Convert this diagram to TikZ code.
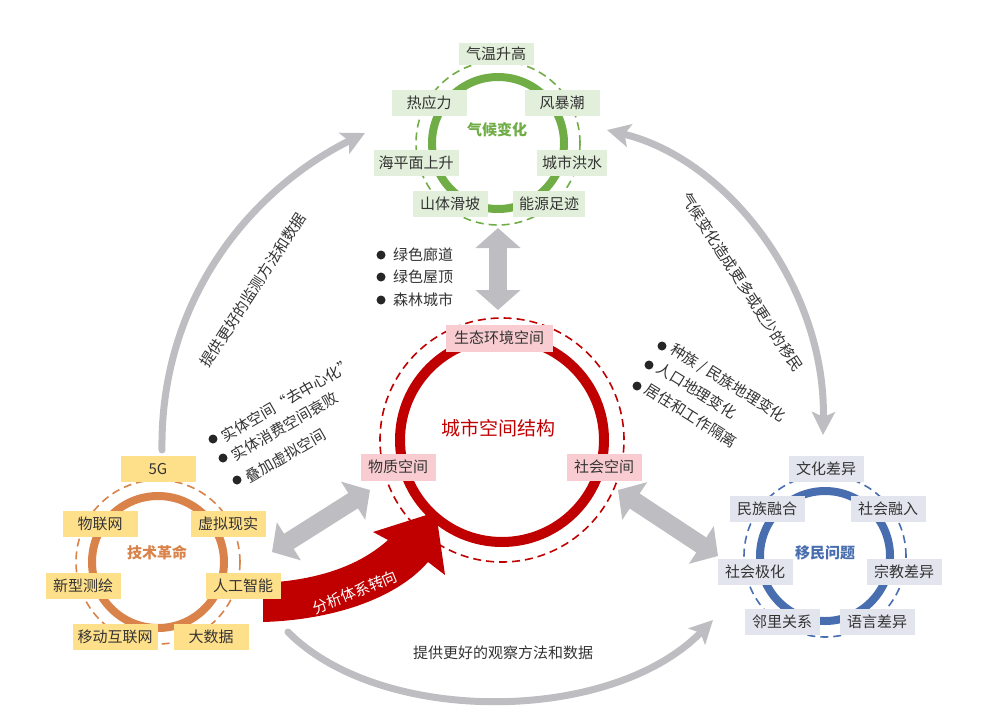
\documentclass[tikz,border=0pt]{standalone}
\usepackage{fontspec}
\setmainfont{Noto Sans CJK SC}
\usetikzlibrary{arrows.meta}

\definecolor{climgreen}{RGB}{112,173,71}
\definecolor{climfill}{RGB}{226,239,218}
\definecolor{urbred}{RGB}{192,0,0}
\definecolor{urbfill}{RGB}{248,204,209}
\definecolor{techorange}{RGB}{217,131,74}
\definecolor{techfill}{RGB}{255,224,138}
\definecolor{migblue}{RGB}{72,110,176}
\definecolor{migfill}{RGB}{226,229,238}
\definecolor{arrowgray}{RGB}{190,190,194}
\definecolor{txtgray}{RGB}{51,51,51}

\begin{document}
\begin{tikzpicture}[x=1pt,y=-1pt,
  font=\fontsize{15}{17}\selectfont, text=txtgray,
  box/.style={inner sep=0pt, minimum width=75pt, minimum height=26pt},
  gbox/.style={box, fill=climfill},
  rbox/.style={box, fill=urbfill, minimum height=27pt},
  obox/.style={box, fill=techfill},
  bbox/.style={box, fill=migfill},
  ring/.style={line width=8pt},
  dring/.style={line width=1.6pt, dash pattern=on 8pt off 5pt},
  fatarrow/.style={arrowgray, line width=18pt,
    {Triangle[width=44pt,length=20pt]}-{Triangle[width=44pt,length=20pt]}},
  thinarrow/.style={arrowgray, line width=7pt, line cap=round},
  grayhead/.tip={Stealth[length=23pt,width=23pt,inset=5pt]},
  bul/.style={circle, fill=black!85, inner sep=0pt, minimum size=9pt},
  title/.style={font=\fontsize{15}{17}\selectfont\bfseries},
]
  \useasboundingbox (0,0) rectangle (982,710);

  % centres of the four rings
  \coordinate (clim) at (498,143);
  \coordinate (urb) at (502,440);
  \coordinate (tech) at (158,562);
  \coordinate (mig) at (825,556);

  % ends of the grey arrows
  \coordinate (techtop) at (162,450);
  \coordinate (climleft) at (365,133);
  \coordinate (climright) at (607,130);
  \coordinate (migtop) at (823,435);
  \coordinate (techbot) at (288,632);
  \coordinate (migleft) at (713,620);
  \coordinate (climbot) at (498,228);
  \coordinate (urbtop) at (498,310);
  \coordinate (techright) at (272,552);
  \coordinate (urbleft) at (370,490);
  \coordinate (urbright) at (618,490);
  \coordinate (migleftup) at (718,556);

  \draw[thinarrow, -grayhead] (techtop) .. controls (160,300) and (250,190) .. (climleft);
  \draw[thinarrow, grayhead-grayhead] (climright) .. controls (730,160) and (826,290) .. (migtop);
  \draw[thinarrow, -grayhead] (techbot) .. controls (380,725) and (610,725) .. (migleft);
  \draw[fatarrow] (climbot) -- (urbtop);
  \draw[fatarrow] (techright) -- (urbleft);
  \draw[fatarrow] (urbright) -- (migleftup);

  \node[rotate=57] (lmon) at (253,290) {提供更好的监测方法和数据};
  \node[rotate=-57] (lmig) at (742,282) {气候变化造成更多或更少的移民};
  \node (lobs) at (503,653) {提供更好的观察方法和数据};

  % red turn arrow
  \fill[urbred] (263,583) .. controls (320,580) and (360,565) .. (388,540) -- (373,532)
    -- (436,512) -- (445,575) -- (428,562) .. controls (395,600) and (330,620) .. (263,622) -- cycle;
  \node[rotate=22, text=white] (lturn) at (355,592) {分析体系转向};

  % rings
  \draw[climgreen, dring] (clim) circle[radius=82pt];
  \draw[climgreen, ring] (clim) circle[radius=66pt];
  \draw[urbred, dring] (urb) circle[radius=122pt];
  \draw[urbred, line width=10pt] (urb) circle[radius=102pt];
  \draw[techorange, dring] (tech) circle[radius=82pt];
  \draw[techorange, ring] (tech) circle[radius=66pt];
  \draw[migblue, dring] (mig) circle[radius=81pt];
  \draw[migblue, ring] (mig) circle[radius=65pt];

  % climate
  \node[title, text=climgreen] (climt) at (497,130) {气候变化};
  \node[gbox, minimum height=22pt] (c1) at (496,54) {气温升高};
  \node[gbox] (c2) at (429,103) {热应力};
  \node[gbox] (c3) at (562,103) {风暴潮};
  \node[gbox, minimum width=85pt] (c4) at (416,163) {海平面上升};
  \node[gbox, minimum width=70pt] (c5) at (572,163) {城市洪水};
  \node[gbox] (c6) at (450,204) {山体滑坡};
  \node[gbox, minimum width=72pt] (c7) at (549,204) {能源足迹};

  % urban structure
  \node[text=urbred, font=\fontsize{19}{21}\selectfont] (urbt) at (498,428) {城市空间结构};
  \node[rbox, minimum width=107pt] (u1) at (499,338) {生态环境空间};
  \node[rbox] (u2) at (398,467) {物质空间};
  \node[rbox] (u3) at (604,467) {社会空间};

  % technology
  \node[title, text=techorange] (techt) at (157,553) {技术革命};
  \node[obox] (t1) at (158,469) {5G};
  \node[obox] (t2) at (100,524) {物联网};
  \node[obox] (t3) at (228,524) {虚拟现实};
  \node[obox] (t4) at (83,586) {新型测绘};
  \node[obox] (t5) at (243,586) {人工智能};
  \node[obox, minimum width=85pt] (t6) at (115,637) {移动互联网};
  \node[obox] (t7) at (211,637) {大数据};

  % migration
  \node[title, text=migblue] (migt) at (825,553) {移民问题};
  \node[bbox] (m1) at (826,469) {文化差异};
  \node[bbox] (m2) at (767,509) {民族融合};
  \node[bbox] (m3) at (888,509) {社会融入};
  \node[bbox] (m4) at (755,572) {社会极化};
  \node[bbox] (m5) at (904,572) {宗教差异};
  \node[bbox] (m6) at (782,622) {邻里关系};
  \node[bbox] (m7) at (877,622) {语言差异};

  % bullet lists
  \node[bul] (gb1) at (381,255) {};
  \node[bul] (gb2) at (381,277) {};
  \node[bul] (gb3) at (381,300) {};
  \node[anchor=west] (gt1) at ([xshift=4pt]gb1.east) {绿色廊道};
  \node[anchor=west] (gt2) at ([xshift=4pt]gb2.east) {绿色屋顶};
  \node[anchor=west] (gt3) at ([xshift=4pt]gb3.east) {森林城市};

  \node[bul] (pb1) at (213,439) {};
  \node[bul] (pb2) at (223,458) {};
  \node[bul] (pb3) at (237,480) {};
  \node[rotate=30, anchor=west] (pt1) at ([xshift=2pt]pb1.east) {实体空间“去中心化”};
  \node[rotate=30, anchor=west] (pt2) at ([xshift=2pt]pb2.east) {实体消费空间衰败};
  \node[rotate=30, anchor=west] (pt3) at ([xshift=2pt]pb3.east) {叠加虚拟空间};

  \node[bul] (sb1) at (662,346) {};
  \node[bul] (sb2) at (649,365) {};
  \node[bul] (sb3) at (637,386) {};
  \node[rotate=-32, anchor=west] (st1) at ([xshift=2pt]sb1.east) {种族 / 民族地理变化};
  \node[rotate=-32, anchor=west] (st2) at ([xshift=2pt]sb2.east) {人口地理变化};
  \node[rotate=-32, anchor=west] (st3) at ([xshift=2pt]sb3.east) {居住和工作隔离};
\end{tikzpicture}
\end{document}
